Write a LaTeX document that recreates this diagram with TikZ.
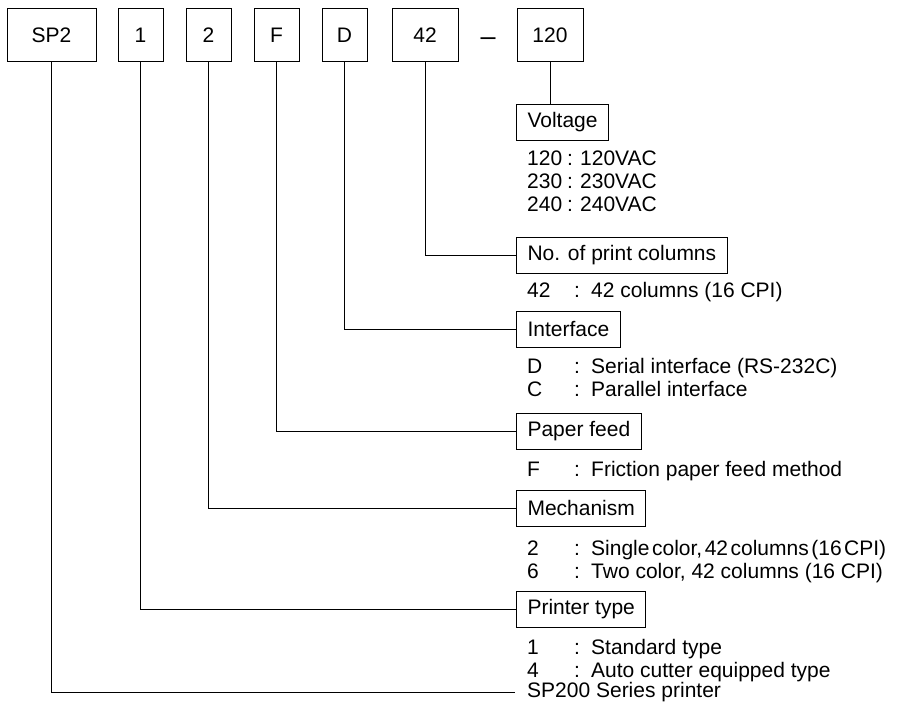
\documentclass[tikz,border=0pt]{standalone}
\usepackage{fontspec}
\setmainfont{Liberation Sans}
\tikzset{
  codebox/.style={draw, line width=1pt, minimum height=52pt, inner sep=0pt},
  itembox/.style={draw, line width=1pt, anchor=west, minimum height=36pt, inner xsep=11pt, inner ysep=0pt},
  optrow/.style={anchor=base west, inner sep=0pt},
  lead/.style={line width=1pt}
}
\newcommand{\vkey}[2]{\makebox[40pt][l]{#1}\makebox[13pt][l]{:}#2}
\newcommand{\okey}[2]{\makebox[47pt][l]{#1}\makebox[17pt][l]{:}#2}
\begin{document}
\begin{tikzpicture}[x=1pt, y=-1pt, font=\fontsize{21pt}{25pt}\selectfont]
    \useasboundingbox (0,0) rectangle (901,717);

    % model number
    \node[codebox, minimum width=89pt] (sp) at (51.5,35) {SP2};
    \node[codebox, minimum width=45pt] (type) at (140.5,35) {1};
    \node[codebox, minimum width=45pt] (mech) at (208.5,35) {2};
    \node[codebox, minimum width=45pt] (feed) at (276.5,35) {F};
    \node[codebox, minimum width=45pt] (intf) at (344.5,35) {D};
    \node[codebox, minimum width=66pt] (cols) at (425,35) {42};
    \node[inner sep=0pt, font=\fontsize{27pt}{30pt}\selectfont] (dash) at (488,42) {–};
    \node[codebox, minimum width=66pt] (volt) at (550,35) {120};

    % voltage
    \node[itembox] (voltbox) at (516,122.5) {Voltage};
    \node[optrow] (v1) at (527,165.5) {\vkey{120}{120VAC}};
    \node[optrow] (v2) at (527,188.5) {\vkey{230}{230VAC}};
    \node[optrow] (v3) at (527,211.5) {\vkey{240}{240VAC}};

    % print columns
    \node[itembox] (colsbox) at (516,255) {No. of print columns};
    \node[optrow] (c1) at (527,297.5) {\okey{42}{42 columns (16 CPI)}};

    % interface
    \node[itembox] (intfbox) at (516,329) {Interface};
    \node[optrow] (i1) at (527,373.5) {\okey{D}{Serial interface (RS-232C)}};
    \node[optrow] (i2) at (527,396.5) {\okey{C}{Parallel interface}};

    % paper feed
    \node[itembox] (feedbox) at (516,431.5) {Paper feed};
    \node[optrow] (f1) at (527,476.5) {\okey{F}{Friction paper feed method}};

    % mechanism
    \node[itembox] (mechbox) at (516,508) {Mechanism};
    \node[optrow] (m1) at (527,555) {\okey{2}{{\spaceskip=0.12em\relax Single color, 42 columns (16 CPI)}}};
    \node[optrow] (m2) at (527,578) {\okey{6}{Two color, 42 columns (16 CPI)}};

    % printer type
    \node[itembox] (typebox) at (516,609) {Printer type};
    \node[optrow] (t1) at (527,654.5) {\okey{1}{Standard type}};
    \node[optrow] (t2) at (527,677.5) {\okey{4}{Auto cutter equipped type}};

    % series
    \node[anchor=west, inner xsep=12pt, inner ysep=0pt] (series) at (515,692) {SP200 Series printer};

    \draw[lead] (volt.south) -- (voltbox.north -| volt.south);
    \draw[lead] (cols.south) |- (colsbox.west);
    \draw[lead] (intf.south) |- (intfbox.west);
    \draw[lead] (feed.south) |- (feedbox.west);
    \draw[lead] (mech.south) |- (mechbox.west);
    \draw[lead] (type.south) |- (typebox.west);
    \draw[lead] (sp.south) |- (series.west);
\end{tikzpicture}
\end{document}
